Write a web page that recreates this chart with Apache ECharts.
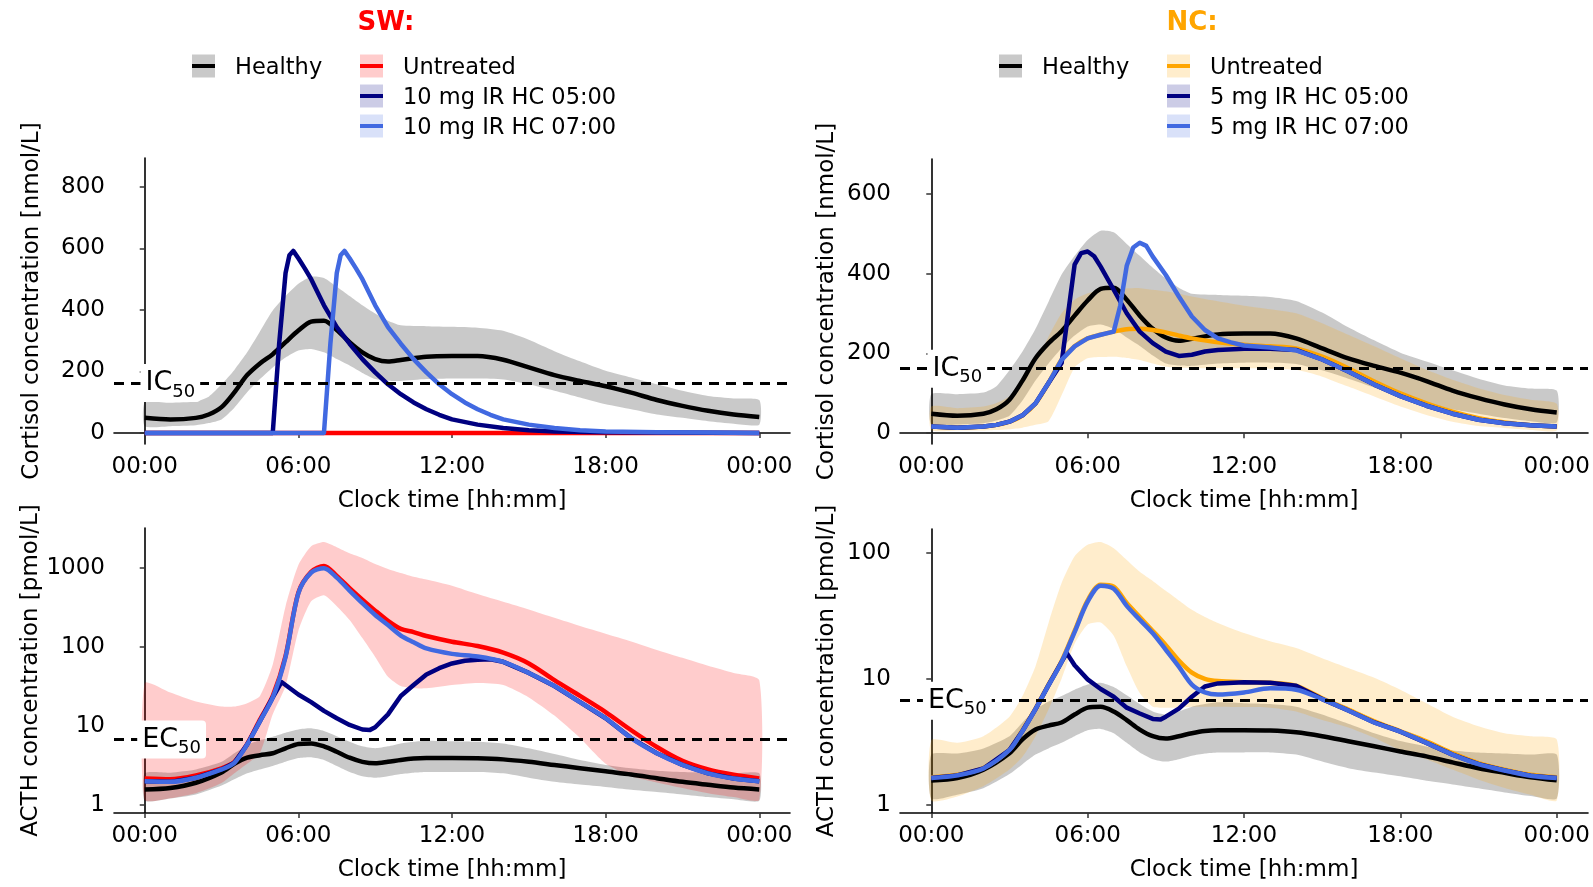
<!DOCTYPE html>
<html>
<head>
<meta charset="utf-8">
<title>SW / NC cortisol and ACTH</title>
<script src="https://cdn.jsdelivr.net/npm/echarts@6/dist/echarts.min.js"></script>
<style>
  html, body { margin: 0; padding: 0; background: #fff; }
  #chart { width: 1593px; height: 887px; }
</style>
</head>
<body>
<div id="chart"></div>
<script>
// clock hours, 0 = 00:00
const hourTicks = [0, 6, 12, 18, 24]
const IC50 = 162
const EC50 = 6.7

// --- cortisol [nmol/L] ---
const tCort = [0, 1, 2, 2.5, 3, 3.5, 4, 4.5, 5, 5.5, 6, 6.5, 7, 7.5, 8, 8.5, 9, 9.5, 10, 11, 12, 13, 14, 15, 16, 17, 18, 19, 20, 21, 22, 23, 24]
const healthyCort = [49, 44, 49, 60, 84, 132, 188, 226, 256, 295, 333, 362, 365, 335, 295, 262, 240, 232, 237, 248, 250, 250, 238, 213, 188, 169, 152, 131, 107, 88, 72, 60, 52]
const healthyCortHi = [98, 98, 102, 118, 158, 205, 262, 330, 398, 445, 485, 508, 504, 475, 445, 415, 388, 365, 350, 347, 345, 342, 332, 303, 266, 233, 202, 180, 158, 137, 120, 112, 107]
const healthyCortLo = [22, 22, 25, 32, 44, 82, 132, 175, 213, 245, 268, 273, 262, 240, 219, 195, 175, 170, 169, 175, 177, 177, 174, 158, 137, 115, 93, 77, 60, 49, 38, 30, 27]

const tSwCort = [0, 12, 24]
const swCort = [0, 0, 0]
const tSwCort05 = [0, 5, 5.25, 5.5, 5.65, 5.8, 6, 6.25, 6.5, 7, 7.5, 8, 8.5, 9, 9.5, 10, 10.5, 11, 11.5, 12, 13, 14, 15, 16, 18, 20, 24]
const swCort05 = [0, 0, 290, 520, 578, 592, 568, 535, 500, 415, 344, 290, 240, 197, 158, 126, 99, 77, 59, 44, 27, 16, 9, 5, 2, 1, 0]
const tSwCort07 = [0, 7, 7.25, 7.5, 7.65, 7.8, 8, 8.25, 8.5, 9, 9.5, 10, 10.5, 11, 11.5, 12, 12.5, 13, 13.5, 14, 15, 16, 17, 18, 20, 22, 24]
const swCort07 = [0, 0, 290, 520, 578, 592, 568, 535, 500, 415, 344, 290, 240, 197, 158, 126, 99, 77, 59, 44, 27, 16, 9, 5, 2, 1, 0]

const ncCort = [17, 14, 17, 21, 29, 45, 75, 126, 184, 218, 238, 247, 255, 261, 262, 259, 253, 245, 238, 228, 222, 218, 213, 192, 163, 130, 100, 75, 54, 38, 27, 20, 17]
const ncCortHi = [67, 63, 67, 76, 92, 130, 176, 243, 301, 335, 351, 358, 361, 363, 364, 360, 356, 350, 343, 331, 320, 311, 301, 276, 247, 218, 188, 159, 134, 113, 96, 84, 74]
const ncCortLo = [8, 7, 7, 8, 10, 14, 21, 30, 95, 165, 188, 191, 192, 189, 184, 175, 167, 164, 163, 163, 163, 162, 159, 142, 117, 92, 67, 46, 29, 18, 13, 8, 7]
const tNcCort05 = [0, 1, 2, 2.5, 3, 3.5, 4, 4.5, 5, 5.25, 5.5, 5.75, 6, 6.25, 6.5, 7, 7.5, 8, 8.5, 9, 9.5, 10, 10.5, 11, 12, 13, 14, 15, 16, 17, 18, 19, 20, 21, 22, 23, 24]
const ncCort05 = [17, 14, 17, 21, 29, 45, 75, 126, 176, 300, 423, 452, 456, 444, 418, 360, 301, 255, 226, 205, 194, 197, 205, 209, 212, 212, 209, 185, 155, 122, 93, 69, 49, 34, 25, 20, 17]
const tNcCort07 = [0, 1, 2, 2.5, 3, 3.5, 4, 4.5, 5, 5.5, 6, 6.5, 7, 7.25, 7.5, 7.75, 8, 8.25, 8.5, 9, 9.5, 10, 10.5, 11, 11.5, 12, 13, 14, 15, 16, 17, 18, 19, 20, 21, 22, 23, 24]
const ncCort07 = [17, 14, 17, 21, 29, 45, 75, 126, 184, 218, 238, 247, 255, 320, 420, 466, 478, 470, 443, 397, 343, 293, 259, 238, 228, 220, 215, 208, 185, 155, 122, 93, 69, 49, 34, 25, 20, 17]

// --- ACTH [pmol/L] ---
const tActh = [0, 1, 2, 3, 3.5, 4, 4.5, 5, 5.5, 6, 6.5, 7, 7.5, 8, 8.5, 9, 9.5, 10, 10.5, 11, 12, 13, 14, 15, 16, 17, 18, 19, 20, 21, 22, 23, 24]
const healthyActh = [1.56, 1.63, 1.9, 2.57, 3.3, 3.95, 4.25, 4.5, 5.2, 5.9, 6.0, 5.5, 4.7, 3.95, 3.5, 3.35, 3.5, 3.7, 3.85, 3.9, 3.9, 3.88, 3.76, 3.5, 3.19, 2.91, 2.65, 2.42, 2.17, 1.95, 1.79, 1.65, 1.56]
const healthyActhHi = [2.5, 2.55, 2.8, 3.5, 4.5, 5.7, 6.6, 7.3, 8.2, 9.0, 9.3, 8.6, 7.4, 6.3, 5.5, 5.2, 5.5, 6.0, 6.3, 6.5, 6.4, 6.3, 6.0, 5.2, 4.4, 3.7, 3.2, 2.9, 2.7, 2.6, 2.55, 2.5, 2.5]
const healthyActhLo = [1.12, 1.2, 1.35, 1.75, 2.1, 2.5, 2.8, 3.1, 3.5, 3.9, 4.0, 3.7, 3.1, 2.6, 2.3, 2.2, 2.3, 2.45, 2.55, 2.6, 2.6, 2.6, 2.5, 2.2, 1.95, 1.8, 1.68, 1.55, 1.45, 1.35, 1.25, 1.17, 1.12]

const swActh = [2.15, 2.1, 2.35, 2.9, 3.5, 5.9, 12, 24, 77, 490, 900, 1070, 800, 560, 400, 290, 215, 170, 155, 138, 117, 103, 85, 62, 38, 24, 15, 8.8, 5.4, 3.6, 2.8, 2.4, 2.15]
const swActhHi = [35, 26.5, 20.4, 17.6, 17.6, 19.4, 24, 60, 330, 1100, 1900, 2150, 1850, 1550, 1350, 1130, 980, 870, 780, 720, 600, 470, 375, 300, 235, 185, 148, 118, 92, 73, 58, 47, 38]
const swActhLo = [1.16, 1.21, 1.4, 1.88, 2.5, 3.3, 4.5, 14, 32, 160, 380, 455, 330, 221, 130, 75, 42, 32, 30, 30, 33, 35, 33, 23, 13.5, 7, 3.3, 2.3, 1.92, 1.63, 1.4, 1.25, 1.16]
const swActh07 = [1.98, 1.95, 2.2, 2.8, 3.4, 5.8, 11.5, 23, 75, 480, 880, 1000, 760, 520, 360, 255, 190, 140, 115, 96, 82, 76, 65, 47, 32, 20, 12.5, 7.0, 4.5, 3.2, 2.5, 2.15, 1.98]
const tSwActh05 = [0, 1, 2, 3, 3.5, 4, 4.5, 5, 5.34, 5.5, 6, 6.5, 7, 7.5, 8, 8.5, 8.8, 9, 9.5, 10, 10.5, 11, 11.5, 12, 12.5, 13, 13.5, 14, 15, 16, 17, 18, 19, 20, 21, 22, 23, 24]
const swActh05 = [1.98, 1.95, 2.2, 2.8, 3.4, 5.8, 11.5, 23, 36, 33, 25, 20, 15.5, 12.5, 10.3, 9.0, 8.9, 9.6, 14, 24, 33, 45, 54, 62, 67, 69, 70, 65, 47, 32, 20, 12.5, 7.0, 4.5, 3.2, 2.5, 2.15, 1.98]

const ncActh = [1.65, 1.73, 1.96, 2.74, 3.9, 5.8, 9, 13.8, 24, 42, 56, 54, 40, 31, 24, 18.5, 14, 11.2, 10.0, 9.6, 9.4, 9.3, 8.8, 7.0, 5.7, 4.6, 3.83, 3.19, 2.57, 2.14, 1.9, 1.73, 1.65]
const ncActhHi = [3.24, 3.1, 3.5, 5.0, 7.3, 12.6, 27.8, 57.6, 94, 116, 122, 109, 88, 71, 60, 50, 42, 35.4, 31, 27.8, 23.1, 19.9, 17.6, 14.6, 12.2, 10.2, 8.2, 6.4, 5.0, 4.2, 3.7, 3.5, 3.3]
const ncActhLo = [1.08, 1.16, 1.4, 1.9, 2.4, 3.5, 5.7, 10, 19, 27, 28, 22, 12.6, 7.7, 6.0, 5.9, 5.9, 6.0, 6.0, 6.0, 5.96, 5.9, 5.5, 4.7, 4.1, 3.4, 2.7, 2.3, 1.9, 1.58, 1.36, 1.2, 1.08]
const ncActh07 = [1.63, 1.71, 1.94, 2.72, 3.85, 5.75, 8.9, 13.6, 23.5, 41, 55, 52, 38, 29.5, 23, 17, 12.5, 9.0, 7.8, 7.5, 7.8, 8.4, 8.2, 6.9, 5.6, 4.5, 3.8, 3.1, 2.5, 2.1, 1.87, 1.7, 1.63]
const tNcActh05 = [0, 1, 2, 3, 3.5, 4, 4.5, 5, 5.2, 5.5, 6, 6.5, 7, 7.5, 8, 8.5, 8.8, 9, 9.5, 10, 10.5, 11, 12, 13, 14, 15, 16, 17, 18, 19, 20, 21, 22, 23, 24]
const ncActh05 = [1.63, 1.71, 1.94, 2.72, 3.85, 5.75, 8.9, 13.6, 16, 12.8, 9.9, 8.3, 7.2, 5.9, 5.3, 4.8, 4.75, 5.0, 5.8, 7.2, 8.7, 9.2, 9.4, 9.3, 8.8, 6.9, 5.6, 4.5, 3.8, 3.1, 2.5, 2.1, 1.87, 1.7, 1.63]

const swLabels = ['Healthy', 'Untreated', '10 mg IR HC 05:00', '10 mg IR HC 07:00']
const ncLabels = ['Healthy', 'Untreated', '5 mg IR HC 05:00', '5 mg IR HC 07:00']

const FONT = 'DejaVu Sans'
const col = {
  healthy: '#000000', healthyBand: 'rgba(0,0,0,0.21)',
  sw: '#ff0000', swBand: 'rgba(255,0,0,0.2)',
  nc: '#ffa500', ncBand: 'rgba(255,165,0,0.2)',
  early: '#000080', earlyBand: 'rgba(0,0,128,0.2)',
  late: '#4169e1', lateBand: 'rgba(65,105,225,0.2)'
}

const pairs = (ts, vs) => ts.map((t, i) => [t, vs[i]])
const hhmm = (v) => String(v % 24).padStart(2, '0') + ':00'

// ribbon drawn as one polygon through the axis scales
function band (g, ts, lo, hi, fill) {
  return {
    type: 'custom', xAxisIndex: g, yAxisIndex: g, silent: true, clip: true,
    data: [[12, 10]],
    renderItem: (params, api) => {
      const pts = []
      ts.forEach((t, i) => pts.push(api.coord([t, hi[i]])))
      for (let i = ts.length - 1; i >= 0; i--) pts.push(api.coord([ts[i], lo[i]]))
      return { type: 'polygon', shape: { points: pts, smooth: 0.2 }, style: { fill: fill } }
    }
  }
}

function line (g, name, ts, vs, color, smooth) {
  return {
    type: 'line', name: name, xAxisIndex: g, yAxisIndex: g,
    data: pairs(ts, vs), showSymbol: false, smooth: smooth, silent: true,
    lineStyle: { color: color, width: 4.5, join: 'round' }, itemStyle: { color: color }
  }
}

function withThreshold (s, value, text, at) {
  s.markLine = {
    silent: true, symbol: ['none', 'none'], label: { show: false }, z: 5,
    lineStyle: { type: [10, 7], color: '#000', width: 3 },
    data: [{ yAxis: value }]
  }
  s.markPoint = {
    silent: true, symbol: 'rect', symbolSize: 1, z: 6,
    itemStyle: { color: 'rgba(0,0,0,0)' },
    label: {
      show: true, position: 'inside', formatter: '{a|' + text + '}{b|50}',
      backgroundColor: '#fff', borderRadius: 4, padding: [1, 5, 1, 5],
      rich: {
        a: { fontSize: 27, lineHeight: 36, fontFamily: FONT, color: '#000' },
        b: { fontSize: 18, lineHeight: 18, verticalAlign: 'bottom', fontFamily: FONT, color: '#000' }
      }
    },
    data: [{ coord: [at, value] }]
  }
  return s
}

const axisText = { fontSize: 23, fontFamily: FONT, color: '#000' }

function xAxis (g) {
  return {
    type: 'value', gridIndex: g, min: -1.2, max: 25.2,
    name: 'Clock time [hh:mm]', nameLocation: 'middle', nameGap: 46, nameTextStyle: axisText,
    axisLine: { lineStyle: { color: '#000', width: 1.6 } },
    axisTick: { customValues: hourTicks, length: 5, lineStyle: { color: '#333', width: 1.5 } },
    axisLabel: Object.assign({ customValues: hourTicks, formatter: hhmm, margin: 12 }, axisText),
    splitLine: { show: false }
  }
}

function yAxis (g, type, min, max, ticks, name, gap) {
  return {
    type: type, gridIndex: g, min: min, max: max, logBase: 10,
    name: name, nameLocation: 'middle', nameGap: gap, nameTextStyle: axisText,
    axisLine: { show: true, lineStyle: { color: '#000', width: 1.6 } },
    axisTick: { show: true, customValues: ticks, length: 5, lineStyle: { color: '#333', width: 1.5 } },
    axisLabel: Object.assign({ customValues: ticks, formatter: (v) => String(v), margin: 9 }, axisText),
    splitLine: { show: false }
  }
}

// legend keys and headers
const graphic = []
function legendKey (x, cy, fill, stroke, label) {
  graphic.push({ type: 'rect', shape: { x: x, y: cy - 11.5, width: 23, height: 23 }, style: { fill: fill } })
  graphic.push({ type: 'line', shape: { x1: x, y1: cy, x2: x + 23, y2: cy }, style: { stroke: stroke, lineWidth: 4 } })
  graphic.push({ type: 'text', x: x + 43, y: cy + 2.5, style: { text: label, fontSize: 22.5, fontFamily: FONT, fill: '#000', verticalAlign: 'middle', align: 'left' } })
}
function legendBlock (cx, title, titleColor, x1, x2, labels, untreated, untreatedBand) {
  graphic.push({ type: 'text', x: cx, y: 23.5, style: { text: title, fontSize: 26, fontWeight: 'bold', fontFamily: FONT, fill: titleColor, align: 'center', verticalAlign: 'middle' } })
  legendKey(x1, 66, col.healthyBand, col.healthy, labels[0])
  legendKey(x2, 66, untreatedBand, untreated, labels[1])
  legendKey(x2, 96, col.earlyBand, col.early, labels[2])
  legendKey(x2, 126, col.lateBand, col.late, labels[3])
}
legendBlock(386, 'SW:', col.sw, 192, 360, swLabels, col.sw, col.swBand)
legendBlock(1192, 'NC:', col.nc, 999, 1167, ncLabels, col.nc, col.ncBand)

const series = [
  // SW cortisol
  band(0, tCort, healthyCortLo, healthyCortHi, col.healthyBand),
  line(0, 'Healthy', tCort, healthyCort, col.healthy, 0.3),
  line(0, 'Untreated', tSwCort, swCort, col.sw, false),
  line(0, swLabels[2], tSwCort05, swCort05, col.early, false),
  withThreshold(line(0, swLabels[3], tSwCort07, swCort07, col.late, false), IC50, 'IC', 1.0),
  // NC cortisol
  band(1, tCort, healthyCortLo, healthyCortHi, col.healthyBand),
  line(1, 'Healthy', tCort, healthyCort, col.healthy, 0.3),
  band(1, tCort, ncCortLo, ncCortHi, col.ncBand),
  line(1, 'Untreated', tCort, ncCort, col.nc, 0.3),
  line(1, ncLabels[2], tNcCort05, ncCort05, col.early, false),
  withThreshold(line(1, ncLabels[3], tNcCort07, ncCort07, col.late, false), IC50, 'IC', 1.0),
  // SW ACTH
  band(2, tActh, healthyActhLo, healthyActhHi, col.healthyBand),
  line(2, 'Healthy', tActh, healthyActh, col.healthy, 0.3),
  band(2, tActh, swActhLo, swActhHi, col.swBand),
  line(2, 'Untreated', tActh, swActh, col.sw, 0.3),
  line(2, swLabels[2], tSwActh05, swActh05, col.early, false),
  withThreshold(line(2, swLabels[3], tActh, swActh07, col.late, 0.3), EC50, 'EC', 1.05),
  // NC ACTH
  band(3, tActh, healthyActhLo, healthyActhHi, col.healthyBand),
  line(3, 'Healthy', tActh, healthyActh, col.healthy, 0.3),
  band(3, tActh, ncActhLo, ncActhHi, col.ncBand),
  line(3, 'Untreated', tActh, ncActh, col.nc, 0.3),
  line(3, ncLabels[2], tNcActh05, ncActh05, col.early, false),
  withThreshold(line(3, ncLabels[3], tActh, ncActh07, col.late, 0.3), EC50, 'EC', 1.0)
]

const chart = echarts.init(document.getElementById('chart'))
chart.setOption({
  animation: false,
  backgroundColor: '#fff',
  grid: [
    { left: 114, top: 158, width: 676, height: 286 },
    { left: 900, top: 159, width: 688, height: 285 },
    { left: 114, top: 528, width: 676, height: 285 },
    { left: 900, top: 529, width: 688, height: 284 }
  ],
  xAxis: [xAxis(0), xAxis(1), xAxis(2), xAxis(3)],
  yAxis: [
    yAxis(0, 'value', -36, 894, [0, 200, 400, 600, 800], 'Cortisol concentration [nmol/L]', 70),
    yAxis(1, 'value', -27, 688, [0, 200, 400, 600], 'Cortisol concentration [nmol/L]', 61),
    yAxis(2, 'log', 0.785, 3240, [1, 10, 100, 1000], 'ACTH concentration [pmol/L]', 70),
    yAxis(3, 'log', 0.859, 155, [1, 10, 100], 'ACTH concentration [pmol/L]', 61)
  ],
  graphic: graphic,
  series: series
})
</script>
</body>
</html>
